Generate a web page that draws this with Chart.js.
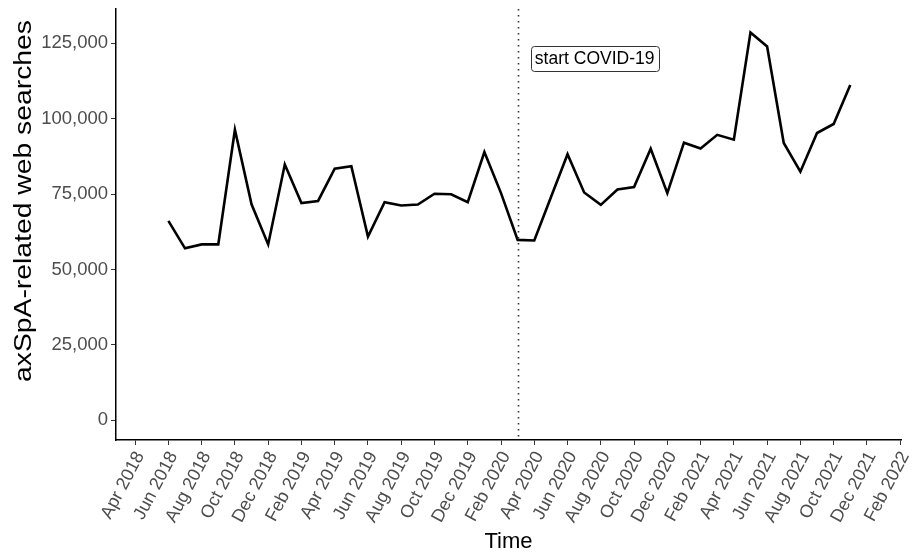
<!DOCTYPE html>
<html>
<head>
<meta charset="utf-8">
<script src="https://cdn.jsdelivr.net/npm/chart.js@4.4.0/dist/chart.umd.min.js"></script>
<style>
  html, body { margin: 0; padding: 0; background: #fff; }
</style>
</head>
<body>
<canvas id="myChart" width="913" height="555"></canvas>
<script>
// ============== Data ==============
const months = [
  "2018-06", "2018-07", "2018-08", "2018-09", "2018-10", "2018-11", "2018-12",
  "2019-01", "2019-02", "2019-03", "2019-04", "2019-05", "2019-06",
  "2019-07", "2019-08", "2019-09", "2019-10", "2019-11", "2019-12",
  "2020-01", "2020-02", "2020-03", "2020-04", "2020-05", "2020-06",
  "2020-07", "2020-08", "2020-09", "2020-10", "2020-11", "2020-12",
  "2021-01", "2021-02", "2021-03", "2021-04", "2021-05", "2021-06",
  "2021-07", "2021-08", "2021-09", "2021-10", "2021-11"
];
const searches = [
  66100, 57000, 58300, 58300, 96300, 71600, 58300,
  84800, 72000, 72700, 83400, 84200, 60900,
  72300, 71200, 71500, 75100, 74900, 72300,
  88900, 75300, 59800, 59600, 73900, 88200,
  75500, 71400, 76500, 77300, 90000, 75300,
  92000, 90100, 94600, 93000, 128500, 123900,
  91900, 82400, 95200, 98200, 111100
];
const xTickLabels = [
  "Apr 2018", "Jun 2018", "Aug 2018", "Oct 2018", "Dec 2018",
  "Feb 2019", "Apr 2019", "Jun 2019", "Aug 2019", "Oct 2019", "Dec 2019",
  "Feb 2020", "Apr 2020", "Jun 2020", "Aug 2020", "Oct 2020", "Dec 2020",
  "Feb 2021", "Apr 2021", "Jun 2021", "Aug 2021", "Oct 2021", "Dec 2021",
  "Feb 2022"
];
const yTicks = [0, 25000, 50000, 75000, 100000, 125000];
const yTitle = "axSpA-related web searches";
const covidStart = "2020-03";
const covidLabel = "start COVID-19";
const covidLabelAt = [27.63, 119900]; // month index, searches

const MON = ["Jan", "Feb", "Mar", "Apr", "May", "Jun", "Jul", "Aug", "Sep", "Oct", "Nov", "Dec"];

// month index counted from Apr 2018
function monthIdx(year, month) {
  return (year - 2018) * 12 + (month - 4);
}
function idxFromIso(s) {
  const [y, m] = s.split("-").map(Number);
  return monthIdx(y, m);
}
function idxFromLabel(s) {
  const [mon, y] = s.split(" ");
  return monthIdx(Number(y), MON.indexOf(mon) + 1);
}

const points = months.map((m, i) => ({ x: idxFromIso(m), y: searches[i] }));
const xTickVals = xTickLabels.map(idxFromLabel);

const FONT = "'Liberation Sans', Arial, Helvetica, sans-serif";

// ============== Covid marker + y title ==============
const covidPlugin = {
  id: "covid",
  afterDatasetsDraw(chart) {
    const { ctx, chartArea, scales } = chart;
    const x = Math.round(scales.x.getPixelForValue(idxFromIso(covidStart))) + 0.5;
    ctx.save();
    ctx.strokeStyle = "#333";
    ctx.lineWidth = 1.6;
    ctx.setLineDash([1.6, 4.4]);
    ctx.beginPath();
    ctx.moveTo(x, chartArea.top);
    ctx.lineTo(x, chartArea.bottom);
    ctx.stroke();
    ctx.setLineDash([]);

    const cx = scales.x.getPixelForValue(covidLabelAt[0]);
    const cy = scales.y.getPixelForValue(covidLabelAt[1]);
    ctx.font = "17.5px " + FONT;
    const w = ctx.measureText(covidLabel).width + 8;
    const h = 25;
    const bx = cx - w / 2, by = cy - h / 2;
    ctx.beginPath();
    ctx.roundRect(Math.round(bx) + 0.5, Math.round(by) + 0.5, Math.round(w), h, 3);
    ctx.fillStyle = "#fff";
    ctx.fill();
    ctx.strokeStyle = "#333";
    ctx.lineWidth = 1;
    ctx.stroke();
    ctx.fillStyle = "#000";
    ctx.textAlign = "center";
    ctx.textBaseline = "middle";
    ctx.fillText(covidLabel, cx, cy + 1);
    ctx.restore();
  },
  afterDraw(chart) {
    // y title, a little stretched along its length like the reference
    const { ctx } = chart;
    ctx.save();
    ctx.font = "23px " + FONT;
    const tw = ctx.measureText(yTitle).width;
    ctx.translate(25, 201);
    ctx.rotate(-Math.PI / 2);
    ctx.scale(362 / tw, 1);
    ctx.fillStyle = "#000";
    ctx.textAlign = "center";
    ctx.textBaseline = "middle";
    ctx.fillText(yTitle, 0, 0);
    ctx.restore();
  },
};

const ctx = document.getElementById("myChart").getContext("2d");
const myChart = new Chart(ctx, {
  type: "line",
  data: {
    datasets: [
      {
        label: "searches",
        data: points,
        borderColor: "#000",
        borderWidth: 2.6,
        pointRadius: 0,
        tension: 0,
        fill: false,
      },
    ],
  },
  options: {
    responsive: false,
    animation: false,
    devicePixelRatio: 1,
    layout: { padding: { left: 0, right: 12, top: 9, bottom: 0 } },
    plugins: { legend: { display: false }, tooltip: { enabled: false } },
    scales: {
      x: {
        type: "linear",
        min: -1.15,
        max: 46.05,
        afterBuildTicks: (s) => {
          s.ticks = xTickVals.map((v) => ({ value: v }));
        },
        afterFit: (s) => {
          s.height = 115;
          s.paddingLeft = 0;
          s.paddingRight = 0;
        },
        ticks: {
          autoSkip: false,
          minRotation: 62,
          maxRotation: 62,
          padding: 3,
          labelOffset: 5,
          color: "#4d4d4d",
          font: { family: FONT, size: 18 },
          callback: (v) => xTickLabels[xTickVals.indexOf(v)] || "",
        },
        grid: { drawOnChartArea: false, tickLength: 5, color: "#333", lineWidth: 1 },
        border: { color: "#000", width: 1.5 },
        title: {
          display: true,
          text: "Time",
          color: "#000",
          font: { family: FONT, size: 22 },
          padding: { top: 0, bottom: 0 },
        },
      },
      y: {
        min: -6500,
        max: 136300,
        afterBuildTicks: (s) => {
          s.ticks = yTicks.map((v) => ({ value: v }));
        },
        afterFit: (s) => {
          s.width = 116;
          s.paddingTop = 0;
          s.paddingBottom = 0;
        },
        ticks: {
          padding: 3,
          color: "#4d4d4d",
          font: { family: FONT, size: 18.5 },
          callback: (v) => v.toLocaleString("en-US"),
        },
        grid: { drawOnChartArea: false, tickLength: 5, color: "#333", lineWidth: 1 },
        border: { color: "#000", width: 1.5 },
        title: { display: false },
      },
    },
  },
  plugins: [covidPlugin],
});
</script>
</body>
</html>
